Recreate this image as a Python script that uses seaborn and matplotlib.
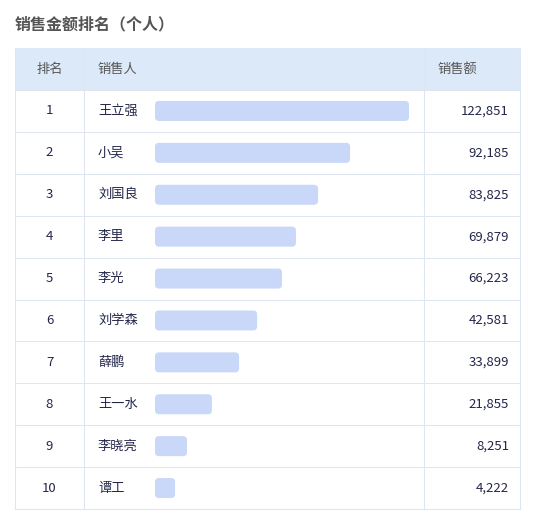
import matplotlib
matplotlib.use("Agg")
import matplotlib.pyplot as plt
from matplotlib.patches import FancyBboxPatch, Rectangle
import seaborn as sns
import pandas as pd

# ---- data ----
title = "销售金额排名（个人）"
headers = ["排名", "销售人", "销售额"]
ranks = [1, 2, 3, 4, 5, 6, 7, 8, 9, 10]
names = ["王立强", "小吴", "刘国良", "李里", "李光", "刘学森", "薛鹏", "王一水", "李晓亮", "谭工"]
sales = [122851, 92185, 83825, 69879, 66223, 42581, 33899, 21855, 8251, 4222]
# bar length as share of the longest bar (%)
bar_pct = [100, 76.8, 64.2, 55.5, 50.0, 40.2, 33.1, 22.4, 12.6, 7.9]

sns.set_theme(style="white")
plt.rcParams["font.family"] = ["Noto Sans CJK SC", "DejaVu Sans"]

W, H = 536, 527
fig = plt.figure(figsize=(W / 100, H / 100), dpi=100)
fig.patch.set_facecolor("white")

# background axes in pixel coordinates for the table frame
bg = fig.add_axes([0, 0, 1, 1])
bg.set_xlim(0, W)
bg.set_ylim(H, 0)
bg.axis("off")

grid_c = "#dde6f1"
head_c = "#dce9f8"
bar_c = "#c9d8f8"
head_txt = "#555555"
body_txt = "#23264a"

left, right = 15, 520
col1, col2 = 84, 424
head_top, head_bot = 48, 90
n = len(ranks)
table_bot = 509
row_h = (table_bot - head_bot) / n

# title
bg.text(left, 24, title, fontsize=11.5, fontweight="bold", color="#555555",
        va="center", ha="left")

# header
bg.add_patch(Rectangle((left, head_top), right - left, head_bot - head_top,
                       facecolor=head_c, edgecolor="none", zorder=0))
hy = (head_top + head_bot) / 2
bg.text((left + col1) / 2, hy, headers[0], fontsize=9.5, color=head_txt, ha="center", va="center")
bg.text(col1 + 13, hy, headers[1], fontsize=9.5, color=head_txt, ha="left", va="center")
bg.text(col2 + 13, hy, headers[2], fontsize=9.5, color=head_txt, ha="left", va="center")

# grid lines
lw = 0.75
for x in [left, col1, col2, right]:
    bg.plot([x, x], [head_top, table_bot], color=grid_c, lw=lw, zorder=1)
for i in range(n + 1):
    y = head_bot + i * row_h
    bg.plot([left, right], [y, y], color=grid_c, lw=lw, zorder=1)
bg.plot([left, right], [table_bot, table_bot], color=grid_c, lw=lw, zorder=1)

# row texts
for i in range(n):
    cy = head_bot + (i + 0.5) * row_h
    bg.text((left + col1) / 2, cy, str(ranks[i]), fontsize=9.5, color=body_txt, ha="center", va="center")
    bg.text(col1 + 14, cy, names[i], fontsize=9.5, color=body_txt, ha="left", va="center")
    bg.text(right - 11, cy, f"{sales[i]:,}", fontsize=9.5, color=body_txt, ha="right", va="center")

# bars via seaborn
bar_x0, bar_full = 155, 254
ax = fig.add_axes([bar_x0 / W, (H - table_bot) / H, bar_full / W, (table_bot - head_bot) / H])
ax.patch.set_alpha(0)
df = pd.DataFrame({"name": names, "pct": bar_pct})
sns.barplot(data=df, x="pct", y="name", order=names, color=bar_c, width=20 / row_h,
            saturation=1, ax=ax)
ax.set_xlim(0, 100)
ax.set_ylim(n - 0.5, -0.5)
ax.axis("off")

fig.canvas.draw()
inv = bg.transData.inverted()
for p in list(ax.patches):
    ext = p.get_window_extent()
    (x0, y0), (x1, y1) = inv.transform([[ext.x0, ext.y0], [ext.x1, ext.y1]])
    ya, yb = min(y0, y1), max(y0, y1)
    r = 4
    rp = FancyBboxPatch((x0 + r, ya + r), (x1 - x0) - 2 * r, (yb - ya) - 2 * r,
                        boxstyle=f"round,pad={r}", facecolor=bar_c, edgecolor="none", zorder=2)
    bg.add_patch(rp)
    p.set_visible(False)

fig.savefig("out.png", dpi=100, facecolor="white")
